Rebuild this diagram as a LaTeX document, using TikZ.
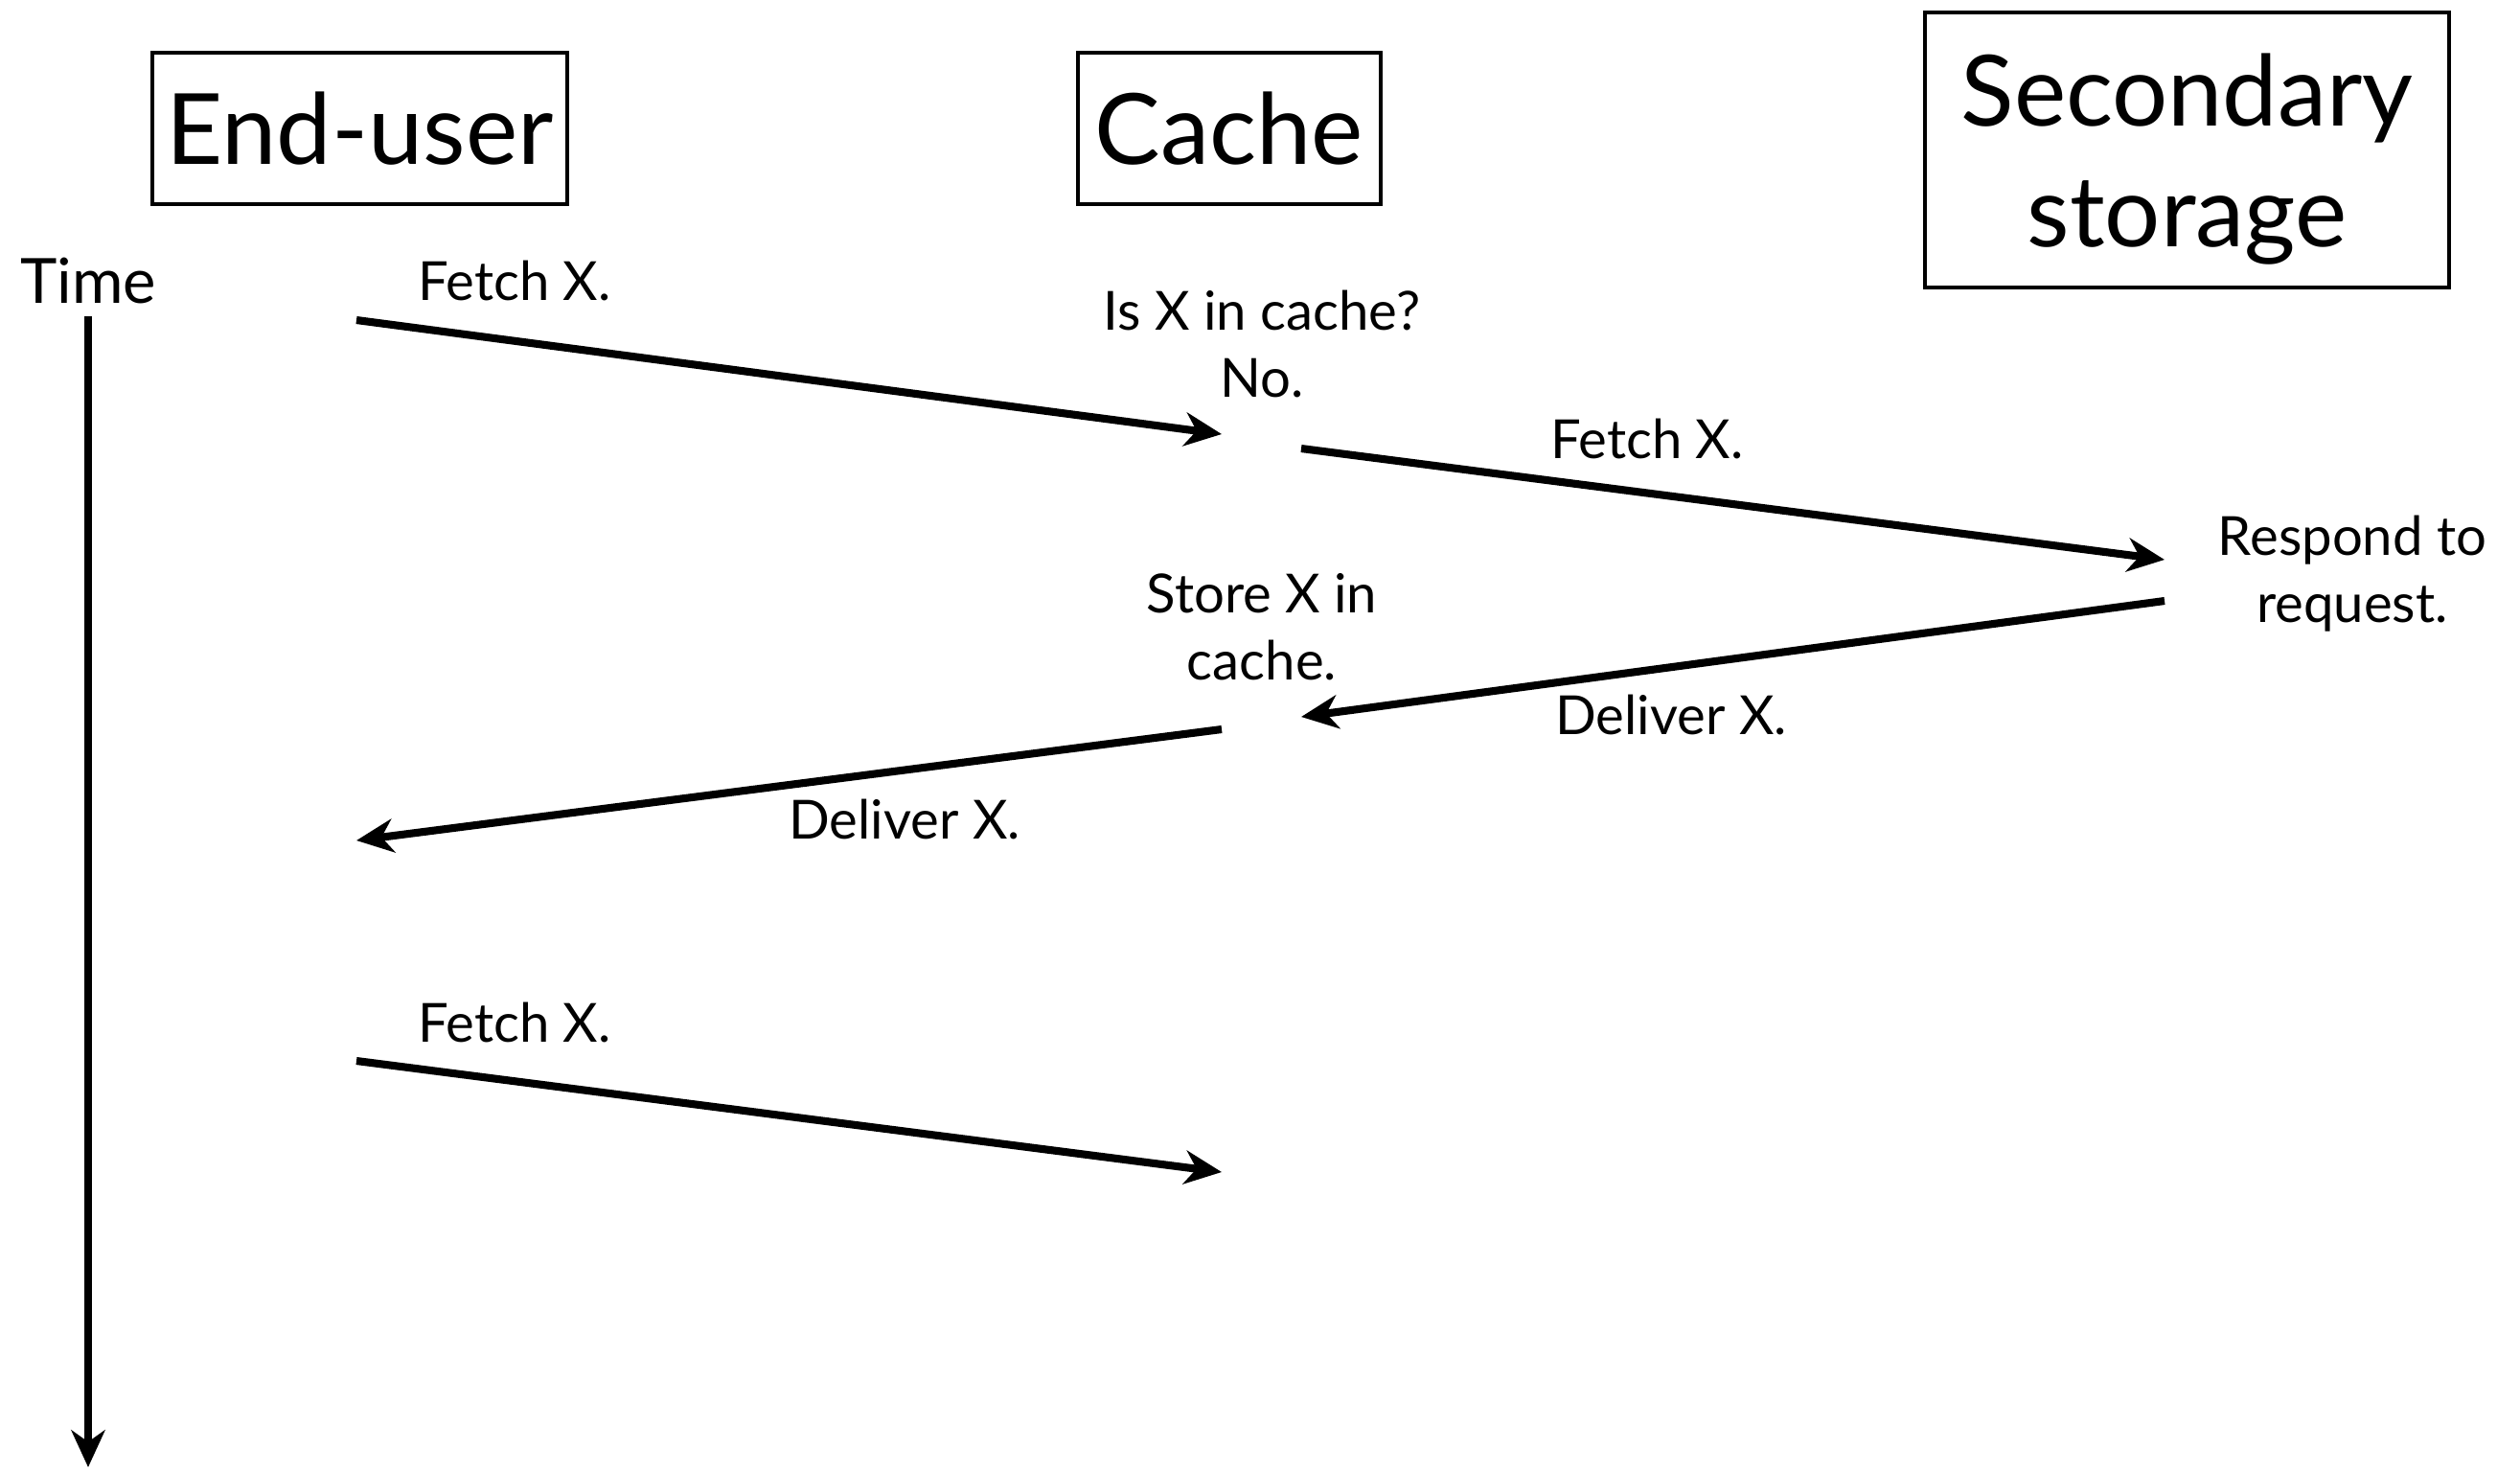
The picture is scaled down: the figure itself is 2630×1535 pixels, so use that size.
\documentclass[tikz,border=0pt]{standalone}
\usepackage{fontspec}
\setmainfont{Lato}
\usetikzlibrary{arrows.meta}
\begin{document}
\begin{tikzpicture}[x=0.01cm,y=-0.01cm,
  box/.style={draw,line width=1.2pt,inner sep=0pt,font=\fontsize{29.2}{36}\selectfont,align=center},
  lbl/.style={font=\fontsize{16}{19.9}\selectfont,align=center,inner sep=0pt},
  msg/.style={line width=2.3pt,-{Stealth[length=11pt,width=10pt,inset=3.5pt]}}]
\useasboundingbox (0,0) rectangle (2630,1535);
% headers
\node[box,minimum width=4.33cm,minimum height=1.58cm] (user) at (375.5,134) {End-user};
\node[box,minimum width=3.16cm,minimum height=1.58cm] (cache) at (1283,134) {Cache};
\node[box,minimum width=5.47cm,minimum height=2.87cm] (sec) at (2282.5,156.5) {};
\node[box,draw=none] (sect) at (2282.5,166) {Secondary\\storage};
% time axis
\node[lbl,font=\fontsize{18.5}{22}\selectfont] (time) at (92,293) {Time};
\coordinate (t0) at (92,330);
\coordinate (t1) at (92,1531);
\draw[msg] (t0) -- (t1);
% message end points
\coordinate (a1s) at (372,334);  \coordinate (a1e) at (1275,453);
\coordinate (a2s) at (1358,468); \coordinate (a2e) at (2259,584);
\coordinate (a3s) at (2259,627); \coordinate (a3e) at (1358,748);
\coordinate (a4s) at (1275,761); \coordinate (a4e) at (372,877);
\coordinate (a5s) at (372,1107); \coordinate (a5e) at (1275,1223);
\draw[msg] (a1s) -- (a1e);
\draw[msg] (a2s) -- (a2e);
\draw[msg] (a3s) -- (a3e);
\draw[msg] (a4s) -- (a4e);
\draw[msg] (a5s) -- (a5e);
% labels
\node[lbl] (f1) at (537,293) {Fetch X.};
\node[lbl] (q) at (1317,359) {Is X in cache?\\No.};
\node[lbl] (f2) at (1719,458) {Fetch X.};
\node[lbl] (resp) at (2455,599) {Respond to\\request.};
\node[lbl] (d1) at (1744,746) {Deliver X.};
\node[lbl] (store) at (1317,654) {Store X in\\cache.};
\node[lbl] (d2) at (944,855) {Deliver X.};
\node[lbl] (f3) at (537,1067) {Fetch X.};
\end{tikzpicture}
\end{document}
